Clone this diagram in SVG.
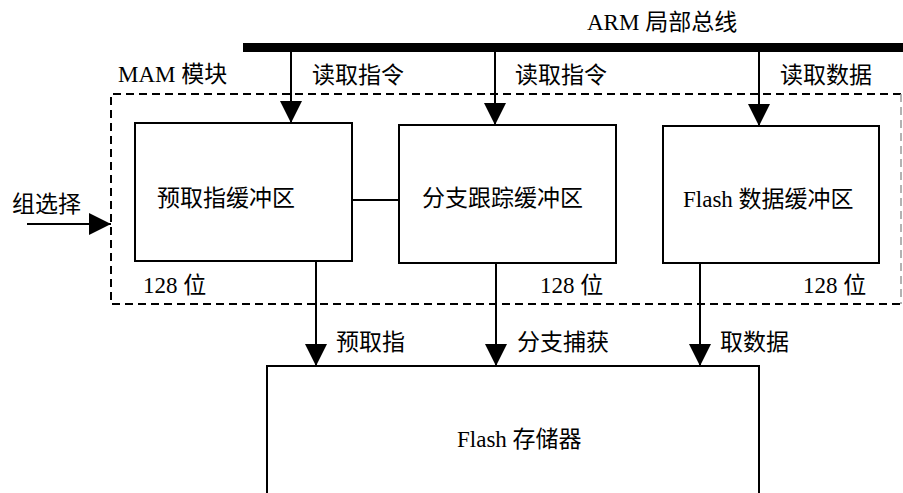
<svg xmlns="http://www.w3.org/2000/svg" width="903" height="493" viewBox="0 0 903 493">
<style>
text{font-family:"Liberation Serif","Noto Sans CJK SC",serif;font-size:23px;fill:#000}
.box{fill:#fff;stroke:#000;stroke-width:2}
.ln{stroke:#000;stroke-width:2;fill:none}
.dash{fill:none;stroke:#000;stroke-width:2;stroke-dasharray:8 5}
</style>
<defs>
<marker id="ah" markerUnits="userSpaceOnUse" markerWidth="22" markerHeight="22" viewBox="0 0 22 22" refX="22" refY="11" orient="auto">
<path d="M0,0 L22,11 L0,22 Z" fill="#000"/>
</marker>
</defs>
<rect id="bus" x="243" y="43" width="660" height="9" fill="#000"/>
<text x="587" y="30">ARM 局部总线</text>
<g id="mam">
<path class="dash" d="M901,94 H111 V304 H901"/>
<path d="M901,94 V304" fill="none" stroke="#999" stroke-width="1.5" stroke-dasharray="8 5"/>
<text x="118" y="82">MAM 模块</text>
</g>
<g id="prefetch">
<rect class="box" x="135" y="123" width="217" height="138"/>
<text x="157" y="206">预取指缓冲区</text>
<text x="143" y="293">128 位</text>
</g>
<g id="branch">
<rect class="box" x="399" y="125" width="217" height="138"/>
<text x="422" y="206">分支跟踪缓冲区</text>
<text x="540" y="293">128 位</text>
</g>
<g id="databuf">
<rect class="box" x="663" y="126" width="216" height="137"/>
<text x="683" y="207">Flash 数据缓冲区</text>
<text x="803" y="293">128 位</text>
</g>
<g id="flash">
<path class="box" d="M267,500 V366 H759 V500"/>
<text x="457" y="447">Flash 存储器</text>
</g>
<g id="connectors">
<line class="ln" x1="291" y1="52" x2="291" y2="123" marker-end="url(#ah)"/>
<line class="ln" x1="495" y1="52" x2="495" y2="125" marker-end="url(#ah)"/>
<line class="ln" x1="759" y1="52" x2="759" y2="126" marker-end="url(#ah)"/>
<line class="ln" x1="352" y1="200" x2="399" y2="200"/>
<line class="ln" x1="27" y1="224" x2="111" y2="224" marker-end="url(#ah)"/>
<line class="ln" x1="316" y1="261" x2="316" y2="366" marker-end="url(#ah)"/>
<line class="ln" x1="496" y1="263" x2="496" y2="366" marker-end="url(#ah)"/>
<line class="ln" x1="700" y1="263" x2="700" y2="366" marker-end="url(#ah)"/>
<text x="312" y="83">读取指令</text>
<text x="515" y="83">读取指令</text>
<text x="780" y="83">读取数据</text>
<text x="12" y="212">组选择</text>
<text x="336" y="350">预取指</text>
<text x="517" y="350">分支捕获</text>
<text x="720" y="350">取数据</text>
</g>
</svg>
